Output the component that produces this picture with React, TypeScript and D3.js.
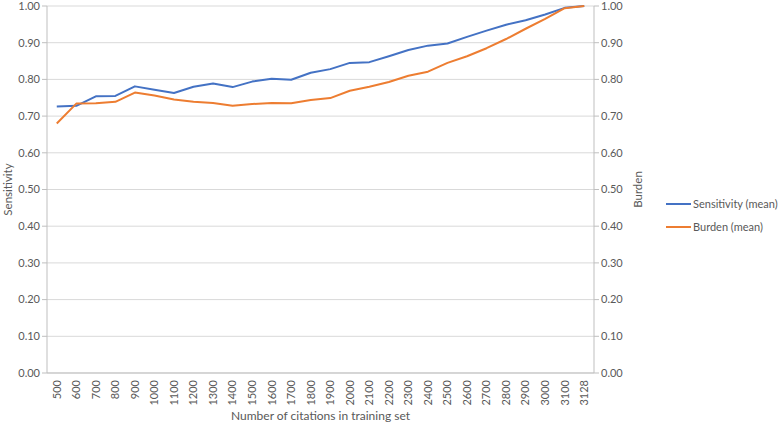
import * as d3 from 'd3';

const categories = ['500', '600', '700', '800', '900', '1000', '1100', '1200', '1300', '1400', '1500', '1600', '1700', '1800', '1900', '2000', '2100', '2200', '2300', '2400', '2500', '2600', '2700', '2800', '2900', '3000', '3100', '3128'];
const sensitivity = [0.726, 0.728, 0.754, 0.755, 0.781, 0.772, 0.763, 0.780, 0.789, 0.779, 0.794, 0.802, 0.799, 0.818, 0.828, 0.845, 0.847, 0.863, 0.880, 0.892, 0.898, 0.916, 0.933, 0.949, 0.961, 0.977, 0.995, 1.0];
const burden = [0.680, 0.734, 0.735, 0.739, 0.764, 0.756, 0.745, 0.739, 0.736, 0.728, 0.733, 0.736, 0.735, 0.744, 0.749, 0.769, 0.780, 0.793, 0.810, 0.821, 0.845, 0.863, 0.885, 0.910, 0.938, 0.965, 0.994, 1.0];
const yTicks = [0, 0.1, 0.2, 0.3, 0.4, 0.5, 0.6, 0.7, 0.8, 0.9, 1.0];

const W = 778;
const H = 424;
const left = 47;
const right = 594;
const top = 6;
const bottom = 373;
const font = "Lato, 'Open Sans', sans-serif";
const textColor = '#595959';

export default function App() {
  const x = d3.scaleBand().domain(categories).range([left, right]);
  const y = d3.scaleLinear().domain([0, 1]).range([bottom, top]);
  const cx = (c: string) => (x(c) ?? 0) + x.bandwidth() / 2;

  const line = d3.line<number>()
    .x((_, i) => cx(categories[i]))
    .y(d => y(d));

  const series = [
    { name: 'Sensitivity (mean)', values: sensitivity, color: '#4472C4' },
    { name: 'Burden (mean)', values: burden, color: '#ED7D31' },
  ];

  return (
    <svg width={W} height={H} style={{ position: 'absolute', left: 0, top: 0 }} fontFamily={font}>
      <rect width={W} height={H} fill="#fff" />
      {/* gridlines */}
      {yTicks.map(t => (
        <line key={'g' + t} x1={left} x2={right} y1={y(t)} y2={y(t)} stroke="#d9d9d9" strokeWidth={1} />
      ))}
      {/* axes */}
      <line x1={left} x2={left} y1={top} y2={bottom} stroke="#bfbfbf" />
      <line x1={right} x2={right} y1={top} y2={bottom} stroke="#bfbfbf" />
      <line x1={left} x2={right} y1={bottom} y2={bottom} stroke="#bfbfbf" />
      {yTicks.map(t => (
        <g key={'t' + t}>
          <line x1={left - 5} x2={left} y1={y(t)} y2={y(t)} stroke="#bfbfbf" />
          <line x1={right} x2={right + 5} y1={y(t)} y2={y(t)} stroke="#bfbfbf" />
          <text x={left - 7} y={y(t)} dy="0.35em" textAnchor="end" fontSize={11} fill={textColor}>{t.toFixed(2)}</text>
          <text x={right + 7} y={y(t)} dy="0.35em" textAnchor="start" fontSize={11} fill={textColor}>{t.toFixed(2)}</text>
        </g>
      ))}
      {categories.map(c => (
        <text key={'x' + c} transform={`translate(${cx(c)},${bottom + 7}) rotate(-90)`} dy="0.35em" textAnchor="end" fontSize={11} fill={textColor}>{c}</text>
      ))}
      {/* lines */}
      {series.map(s => (
        <path key={s.name} d={line(s.values) ?? ''} fill="none" stroke={s.color} strokeWidth={2} strokeLinejoin="round" />
      ))}
      {/* axis titles */}
      <text x={(left + right) / 2} y={420} textAnchor="middle" fontSize={12} fill={textColor}>Number of citations in training set</text>
      <text transform={`translate(12,${(top + bottom) / 2}) rotate(-90)`} textAnchor="middle" fontSize={11.5} fill={textColor}>Sensitivity</text>
      <text transform={`translate(642,${(top + bottom) / 2}) rotate(-90)`} textAnchor="middle" fontSize={11.5} fill={textColor}>Burden</text>
      {/* legend */}
      {series.map((s, i) => (
        <g key={'l' + s.name} transform={`translate(666,${204 + i * 23})`}>
          <line x1={0} x2={25} y1={0} y2={0} stroke={s.color} strokeWidth={2} />
          <text x={27} y={0} dy="0.35em" fontSize={11} fill={textColor}>{s.name}</text>
        </g>
      ))}
    </svg>
  );
}
